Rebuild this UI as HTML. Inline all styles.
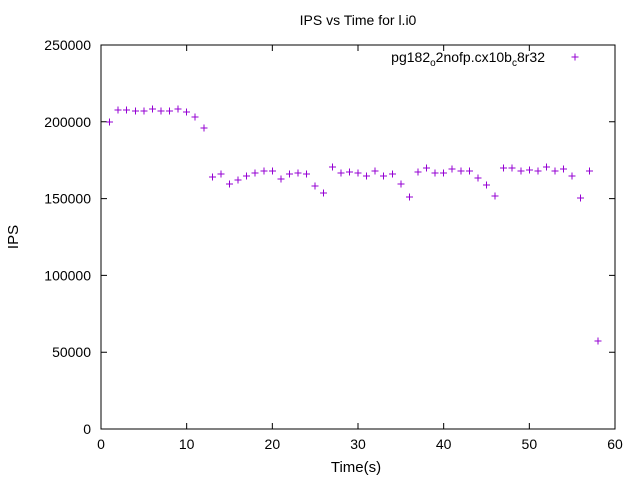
<!DOCTYPE html>
<html><head><meta charset="utf-8"><style>
body{margin:0;background:#fff}
svg text{font-family:"Liberation Sans",sans-serif;fill:#000}
</style></head><body>
<svg id="chart" width="640" height="480" xmlns="http://www.w3.org/2000/svg">
<rect width="640" height="480" fill="#fff"/>
<text x="358" y="25" font-size="14" text-anchor="middle">IPS vs Time for l.i0</text>
<text x="356" y="472" font-size="15" text-anchor="middle">Time(s)</text>
<text x="18" y="237" font-size="15" text-anchor="middle" transform="rotate(-90 18 237)">IPS</text>
<g id="axes"></g>
<g id="marks"></g>
<g>
<text x="545" y="62" font-size="14" text-anchor="end">pg182<tspan font-size="10" dy="4">o</tspan><tspan dy="-4">2nofp.cx10b</tspan><tspan font-size="10" dy="4">c</tspan><tspan dy="-4">8r32</tspan></text>
<path d="M571.5 57h7M575 53.5v7" stroke="#9400d3" stroke-width="1"/>
</g>
</svg>
<script>
const xTicks=[0,10,20,30,40,50,60];
const yTicks=[0,50000,100000,150000,200000,250000];
const times=[1,2,3,4,5,6,7,8,9,10,11,12,13,14,15,16,17,18,19,20,21,22,23,24,25,26,27,28,29,30,31,32,33,34,35,36,37,38,39,40,41,42,43,44,45,46,47,48,49,50,51,52,53,54,55,56,57,58];
const ips=[200000,207700,207700,207000,207000,208300,207000,207000,208300,206400,203100,196000,164000,166000,159500,162000,164700,166700,168000,168000,162700,166000,166700,166000,158200,153600,170600,166700,167300,166700,164700,168000,164700,166000,159500,151000,167300,169900,166700,166700,169300,168000,168000,163400,158800,151700,169900,169900,168000,168700,168000,170600,168000,169300,164700,150400,168000,57300];
const X0=101,X1=615,Y0=429,Y1=45;
const sx=v=>X0+(v-0)/60*(X1-X0);
const sy=v=>Y0-(v/250000)*(Y0-Y1);
const NS="http://www.w3.org/2000/svg";
const axes=document.getElementById('axes'),marks=document.getElementById('marks');
const frame=document.createElementNS(NS,'rect');


frame.setAttribute('x',X0);frame.setAttribute('y',Y1);frame.setAttribute('width',X1-X0);frame.setAttribute('height',Y0-Y1);
frame.setAttribute('fill','none');frame.setAttribute('stroke','#000');
axes.appendChild(frame);
xTicks.forEach(t=>{
  const x=sx(t);
  const p=document.createElementNS(NS,'path');
  
  
  p.setAttribute('d',`M${x} ${Y0}v-6M${x} ${Y1}v6`);p.setAttribute('stroke','#000');
  axes.appendChild(p);
  const tx=document.createElementNS(NS,'text');
  
  
  tx.setAttribute('x',x);tx.setAttribute('y',Y0+20);tx.setAttribute('font-size','14');tx.setAttribute('text-anchor','middle');
  tx.textContent=t;axes.appendChild(tx);
});
yTicks.forEach(t=>{
  const y=sy(t);
  const p=document.createElementNS(NS,'path');
  
  
  p.setAttribute('d',`M${X0} ${y}h6M${X1} ${y}h-6`);p.setAttribute('stroke','#000');
  axes.appendChild(p);
  const tx=document.createElementNS(NS,'text');
  
  
  tx.setAttribute('x',X0-10);tx.setAttribute('y',y+5);tx.setAttribute('font-size','14');tx.setAttribute('text-anchor','end');
  tx.textContent=t;axes.appendChild(tx);
});
times.forEach((t,i)=>{
  const x=sx(t),y=sy(ips[i]);
  const p=document.createElementNS(NS,'path');
  
  
  p.setAttribute('d',`M${x-3.5} ${y}h7M${x} ${y-3.5}v7`);
  p.setAttribute('stroke','#9400d3');p.setAttribute('stroke-width','1');
  p.setAttribute('shape-rendering','crispEdges');
  marks.appendChild(p);
});
</script>
</body></html>
